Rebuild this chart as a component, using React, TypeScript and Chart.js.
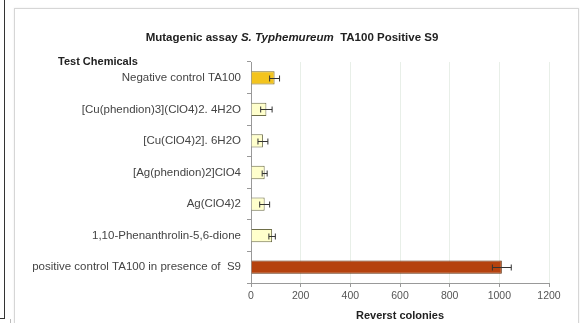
import React, { useEffect, useRef } from "react";
import { Chart, registerables } from "chart.js";

Chart.register(...registerables);

const categories = [
  "Negative control TA100",
  "[Cu(phendion)3](ClO4)2. 4H2O",
  "[Cu(ClO4)2]. 6H2O",
  "[Ag(phendion)2]ClO4",
  "Ag(ClO4)2",
  "1,10-Phenanthrolin-5,6-dione",
  "positive control TA100 in presence of  S9",
];
const colonies = [95, 62, 48, 55, 55, 85, 1010];
const errors = [20, 23, 20, 10, 20, 13, 38];
const fillColors = ["#F3C41E", "#FFFFCC", "#FFFFCC", "#FFFFCC", "#FFFFCC", "#FFFFCC", "#B5420E"];
const edgeColors = ["#7C6A1E", "#6E6E48", "#6E6E48", "#6E6E48", "#6E6E48", "#6E6E48", "#5C2A08"];
const xTicks = [0, 200, 400, 600, 800, 1000, 1200];

const FONT = "'Liberation Sans', Arial, sans-serif";

const annotations = {
  id: "annotations",
  afterDatasetsDraw(chart: any) {
    const { ctx, chartArea, scales } = chart;
    const xs = scales.x;
    const meta = chart.getDatasetMeta(0);
    ctx.save();
    // error bars
    ctx.strokeStyle = "#333";
    ctx.lineWidth = 1;
    meta.data.forEach((bar: any, i: number) => {
      const y = Math.round(bar.y) + 0.5;
      const x0 = xs.getPixelForValue(colonies[i] - errors[i]);
      const x1 = xs.getPixelForValue(colonies[i] + errors[i]);
      ctx.beginPath();
      ctx.moveTo(x0, y);
      ctx.lineTo(x1, y);
      ctx.moveTo(x0, y - 3);
      ctx.lineTo(x0, y + 3);
      ctx.moveTo(x1, y - 3);
      ctx.lineTo(x1, y + 3);
      ctx.stroke();
    });

    // chart title with italic species name
    const parts: [string, string][] = [
      ["Mutagenic assay ", "bold 11.5px " + FONT],
      ["S. Typhemureum", "italic bold 11.5px " + FONT],
      ["  TA100 Positive S9", "bold 11.5px " + FONT],
    ];
    let total = 0;
    parts.forEach(([t, f]) => {
      ctx.font = f;
      total += ctx.measureText(t).width;
    });
    let tx = 278 - total / 2;
    ctx.fillStyle = "#222";
    ctx.textBaseline = "middle";
    ctx.textAlign = "left";
    parts.forEach(([t, f]) => {
      ctx.font = f;
      ctx.fillText(t, tx, 30);
      tx += ctx.measureText(t).width;
    });

    // axis captions
    ctx.font = "bold 11px " + FONT;
    ctx.fillText("Test Chemicals", 44, chartArea.top);
    ctx.textAlign = "center";
    ctx.fillText("Reverst colonies", (chartArea.left + chartArea.right) / 2, chartArea.bottom + 33);
    ctx.restore();
  },
};

export default function App() {
  const canvasRef = useRef<HTMLCanvasElement>(null);

  useEffect(() => {
    const chart = new Chart(canvasRef.current!, {
      type: "bar",
      data: {
        labels: categories,
        datasets: [
          {
            data: colonies,
            backgroundColor: fillColors,
            borderColor: edgeColors,
            borderWidth: 1,
            barPercentage: 0.42,
            categoryPercentage: 1,
          },
        ],
      },
      options: {
        indexAxis: "y",
        animation: false,
        responsive: false,
        maintainAspectRatio: false,
        layout: { padding: { top: 54, right: 28, bottom: 0, left: 0 } },
        plugins: {
          legend: { display: false },
          title: { display: false },
          tooltip: { enabled: false },
        },
        scales: {
          x: {
            min: 0,
            max: 1200,
            afterBuildTicks: (s: any) => {
              s.ticks = xTicks.map((v) => ({ value: v }));
            },
            afterFit: (s: any) => {
              s.height = 40;
            },
            ticks: {
              color: "#555",
              font: { family: FONT, size: 10.5 },
              padding: 3,
              maxRotation: 0,
              callback: (v: any) => String(v),
            },
            grid: {
              color: "#E8EFE8",
              tickColor: "#999",
              tickLength: 4,
            },
            border: { color: "#999" },
          },
          y: {
            afterFit: (s: any) => {
              s.width = 237;
            },
            ticks: {
              color: "#444",
              font: { family: FONT, size: 11.5 },
              padding: 6,
              autoSkip: false,
            },
            grid: {
              drawOnChartArea: false,
              offset: true,
              tickColor: "#999",
              tickLength: 4,
            },
            border: { color: "#999" },
          },
        },
      },
      plugins: [annotations],
    });
    return () => chart.destroy();
  }, []);

  return (
    <div style={{ position: "fixed", left: 0, top: 0, width: 580, height: 323, background: "#fff", overflow: "hidden" }}>
      <div style={{ position: "absolute", left: 4, top: 0, width: 1, height: 318, background: "#333" }} />
      <div style={{ position: "absolute", left: 0, top: 318, width: 5, height: 1, background: "#333" }} />
      <div style={{ position: "absolute", left: 0, top: 319, width: 10, height: 4, borderRight: "1px solid #bbb" }} />
      <div
        style={{
          position: "absolute",
          left: 14,
          top: 8,
          width: 563,
          height: 330,
          borderTop: "1px solid #d6d6d6",
          borderLeft: "1px solid #d6d6d6",
          borderRight: "1px solid #d6d6d6",
          boxShadow: "0 0 2px rgba(0,0,0,0.08)",
        }}
      />
      <canvas
        ref={canvasRef}
        width={563}
        height={315}
        style={{ position: "absolute", left: 14, top: 8, width: 563, height: 315 }}
      />
    </div>
  );
}
